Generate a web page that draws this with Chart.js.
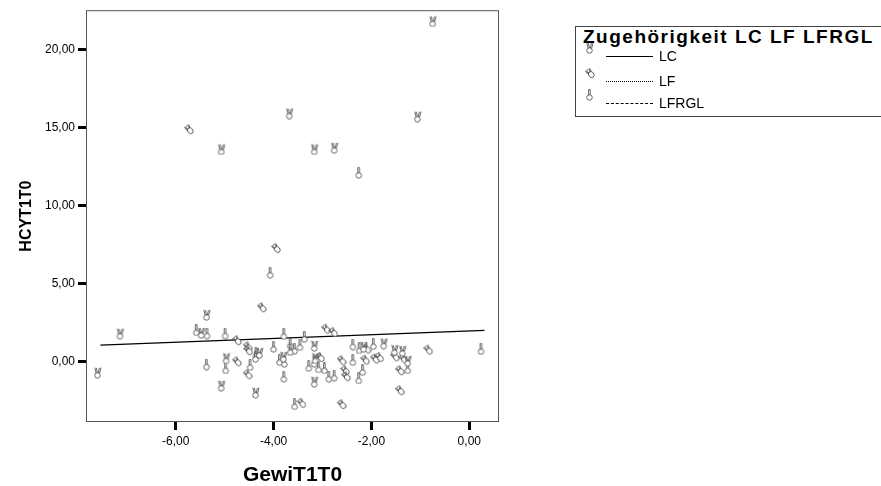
<!DOCTYPE html>
<html>
<head>
<meta charset="utf-8">
<script src="https://cdn.jsdelivr.net/npm/chart.js@4"></script>
<style>
  body { margin: 0; background: #fff; overflow: hidden; }
  #wrap { position: relative; width: 881px; height: 486px; }
  #legend {
    position: absolute; left: 575px; top: 26px; width: 330px; height: 91px;
    border: 1px solid #444; box-sizing: border-box; background: #fff;
    font-family: "Liberation Sans", Arial, sans-serif; color: #000;
  }
  #legend .title { position: absolute; left: 7px; top: -1px; font-size: 19px; font-weight: bold; letter-spacing: 1.5px; white-space: nowrap; }
  #legend .item { position: absolute; left: 9px; height: 20px; font-size: 14px; white-space: nowrap; }
  #legend .glyph { position: absolute; left: 0; top: -5px; }
  #legend .sample { position: absolute; left: 21px; top: 9px; width: 47px; height: 0; }
  #legend .label { position: absolute; left: 74px; top: 1px; }
</style>
</head>
<body>
<div id="wrap">
  <canvas id="scatter" width="881" height="486"></canvas>
  <div id="legend"></div>
</div>
<script>
// groups, their markers and fit-line styles
const groups = ['LC', 'LF', 'LFRGL'];
const markers = ['victory', 'ok', 'point'];
const lineStyles = ['solid', 'dotted', 'dashed'];

// GewiT1T0 (x) / HCYT1T0 (y) per group
const lcX = [-0.74, -5.06, -3.67, -3.16, -2.75, -1.05, -5.36, -7.13, -7.59, -5.47, -4.28, -3.16, -2.15, -1.52, -1.36, -1.25, -4.96, -5.06, -4.36, -3.79, -3.14, -3.16, -1.74];
const lcY = [21.8, 13.6, 15.9, 13.6, 13.7, 15.7, 3.0, 1.8, -0.70, 1.85, 0.57, 1.02, 0.96, 0.75, 0.70, 0.06, 0.22, -1.53, -1.98, 0.32, 0.22, -1.28, 1.17];

const lfX = [-5.73, -3.95, -4.24, -4.75, -4.53, -4.52, -2.93, -2.78, -2.10, -1.52, -1.35, -1.42, -1.42, -0.84, -4.75, -4.53, -3.43, -3.05, -2.61, -2.54, -2.52, -2.13, -2.61, -1.93, -1.84];
const lfY = [14.9, 7.3, 3.5, 1.39, 1.0, 0.75, 2.13, 1.92, 0.86, 0.36, 0.22, -0.53, -1.81, 0.79, 0.04, -0.79, -2.62, 0.32, 0.11, -0.53, -0.91, 0.15, -2.70, 0.22, 0.32];

const lfrglX = [-2.25, -4.06, -5.57, -5.35, -4.98, -4.35, -4.36, -3.99, -3.78, -3.65, -3.56, -3.65, -3.45, -3.36, -2.37, -2.24, -1.95, -1.25, 0.25, -5.36, -4.97, -4.47, -3.87, -3.77, -3.78, -3.56, -3.27, -3.16, -3.07, -2.95, -2.86, -2.75, -2.37, -2.17, -2.25];
const lfrglY = [12.1, 5.7, 2.02, 1.81, 1.81, 0.54, 0.32, 0.96, 1.77, 1.17, 0.83, 0.75, 1.07, 1.60, 1.11, 0.86, 1.13, -0.42, 0.81, -0.17, -0.42, -0.21, 0.11, 0.0, -0.96, -2.72, -0.27, 0.0, -0.36, -0.42, -0.96, -0.89, 0.11, -0.53, -1.06];

// fit line end points
const fitX = [-7.54, 0.31];
const fitY = [1.07, 2.02];

const xTicks = [-6, -4, -2, 0];
const yTicks = [0, 5, 10, 15, 20];

// little hand icons like the SPSS wingdings markers
function makeMarker(kind) {
  const c = document.createElement('canvas');
  c.width = 10; c.height = 12;
  const ctx = c.getContext('2d');
  ctx.strokeStyle = '#555';
  ctx.fillStyle = '#fff';
  ctx.lineWidth = 0.9;
  if (kind === 'ok') {
    // tilted hand with a ring of fingers
    ctx.translate(5, 6);
    ctx.rotate(-0.7);
    ctx.beginPath();
    ctx.ellipse(0, 2, 2.6, 3.2, 0, 0, Math.PI * 2);
    ctx.fill(); ctx.stroke();
    ctx.beginPath();
    ctx.arc(0, -2.5, 1.6, 0, Math.PI * 2);
    ctx.stroke();
    ctx.beginPath();
    ctx.moveTo(-2, -0.5); ctx.lineTo(-2.5, -4.5);
    ctx.moveTo(1.8, -0.5); ctx.lineTo(2.8, -4);
    ctx.stroke();
    return c;
  }
  // palm
  ctx.beginPath();
  ctx.ellipse(4.5, 8.5, 2.8, 2.7, 0, 0, Math.PI * 2);
  ctx.fill(); ctx.stroke();
  ctx.beginPath();
  if (kind === 'victory') {
    ctx.moveTo(3.2, 6.2); ctx.lineTo(1.8, 0.8);
    ctx.moveTo(4.4, 6.0); ctx.lineTo(3.4, 1.0);
    ctx.moveTo(5.4, 6.0); ctx.lineTo(6.4, 1.0);
    ctx.moveTo(6.6, 6.4); ctx.lineTo(8.0, 0.8);
  } else {
    ctx.moveTo(3.6, 6.0); ctx.lineTo(3.6, 0.6);
    ctx.lineTo(5.2, 0.6); ctx.lineTo(5.2, 6.0);
  }
  ctx.stroke();
  return c;
}

function toPoints(xs, ys) {
  return xs.map((x, i) => ({ x: x, y: ys[i] }));
}

function fmt(v) {
  return v.toFixed(2).replace('.', ',');
}

// legend box
const legend = document.getElementById('legend');
legend.innerHTML = '<div class="title">Zugehörigkeit ' + groups.join(' ') + '</div>';
const itemTops = [20, 45, 67];
groups.forEach((g, i) => {
  const item = document.createElement('div');
  item.className = 'item';
  item.style.top = itemTops[i] + 'px';
  const icon = makeMarker(markers[i]);
  icon.className = 'glyph';
  item.appendChild(icon);
  item.insertAdjacentHTML('beforeend',
    '<span class="sample" style="border-top:1px ' + lineStyles[i] + ' #000"></span>' +
    '<span class="label">' + g + '</span>');
  legend.appendChild(item);
});

// box around the plot area
const frame = {
  id: 'frame',
  beforeDatasetsDraw(chart) {
    const a = chart.chartArea;
    const ctx = chart.ctx;
    ctx.save();
    ctx.strokeStyle = '#555';
    ctx.lineWidth = 1;
    ctx.strokeRect(a.left + 0.5, a.top + 0.5, a.right - a.left - 1, a.bottom - a.top - 1);
    ctx.restore();
  }
};

const groupData = [toPoints(lcX, lcY), toPoints(lfX, lfY), toPoints(lfrglX, lfrglY)];
const datasets = groups.map((g, i) => ({
  label: g,
  data: groupData[i],
  pointStyle: makeMarker(markers[i]),
  pointRadius: 6
}));
datasets.push({
  label: 'fit',
  data: toPoints(fitX, fitY),
  showLine: true,
  pointRadius: 0,
  borderColor: '#000',
  borderWidth: 1.2
});

new Chart(document.getElementById('scatter'), {
  type: 'scatter',
  data: { datasets: datasets },
  options: {
    responsive: false,
    animation: false,
    layout: { padding: { top: 9, right: 382, bottom: 0, left: 0 } },
    plugins: { legend: { display: false }, tooltip: { enabled: false } },
    scales: {
      x: {
        min: -7.834, max: 0.607,
        afterBuildTicks: s => { s.ticks = xTicks.map(v => ({ value: v })); },
        afterFit: s => { s.height = 64; },
        grid: { drawOnChartArea: false, drawTicks: true, tickLength: 8, tickWidth: 3, tickColor: '#000' },
        border: { display: false },
        ticks: { callback: v => fmt(v), padding: 4, color: '#000', maxRotation: 0,
          font: { family: '"Liberation Sans", Arial', size: 12 } },
        title: { display: true, text: 'GewiT1T0', color: '#000', padding: { top: 0, bottom: 0 },
          font: { family: '"Liberation Sans", Arial', size: 21, weight: 'bold', lineHeight: 1 } }
      },
      y: {
        min: -3.85, max: 22.52,
        afterBuildTicks: s => { s.ticks = yTicks.map(v => ({ value: v })); },
        afterFit: s => { s.width = 86; },
        grid: { drawOnChartArea: false, drawTicks: true, tickLength: 8, tickWidth: 3, tickColor: '#000' },
        border: { display: false },
        ticks: { callback: v => fmt(v), padding: 3, color: '#000',
          font: { family: '"Liberation Sans", Arial', size: 12 } },
        title: { display: true, text: 'HCYT1T0', color: '#000', padding: { top: 17, bottom: 17 },
          font: { family: '"Liberation Sans", Arial', size: 16, weight: 'bold', lineHeight: 1.2 } }
      }
    }
  },
  plugins: [frame]
});
</script>
</body>
</html>
